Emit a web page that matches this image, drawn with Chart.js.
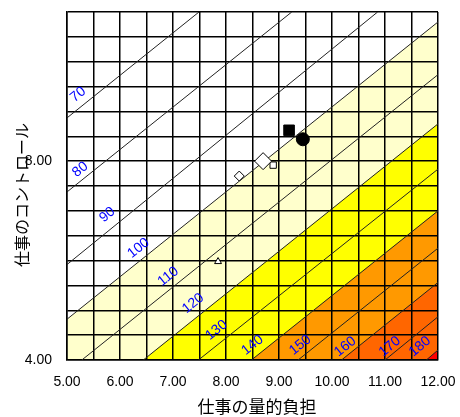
<!DOCTYPE html>
<html>
<head>
<meta charset="utf-8">
<script src="https://cdn.jsdelivr.net/npm/chart.js@4.4.1/dist/chart.umd.min.js"></script>
<style>
  html, body { margin: 0; padding: 0; background: #fff; }
  #wrap { width: 460px; height: 417px; }
</style>
</head>
<body>
<div id="wrap"><canvas id="stressChart" width="460" height="417"></canvas></div>
<script>
// ---------------------------------------------------------------------------
// Dades llegides del gràfic
// ---------------------------------------------------------------------------
const X_TICK_LABELS = [5, 6, 7, 8, 9, 10, 11, 12];
const Y_TICK_LABELS = [4, 8];

// Isolínies: nivell, punt inicial i punt final (valors de l'eix)
const CONTOUR_LEVELS = [70, 80, 90, 100, 110, 120, 130, 140, 150, 160, 170, 180];
const CONTOUR_START = [
    [5, 8.87], [5, 7.38], [5, 5.92], [5, 4.82], [5.28, 4], [6.44, 4],
    [7.48, 4], [8.48, 4], [9.36, 4], [10.18, 4], [11.0, 4], [11.78, 4]
];
const CONTOUR_END = [
    [7.49, 11], [9.24, 11], [10.86, 11], [12, 10.8], [12, 9.74], [12, 8.75],
    [12, 7.84], [12, 7.0], [12, 6.25], [12, 5.56], [12, 4.87], [12, 4.2]
];
// On es col·loca l'etiqueta de cada isolínia
const CONTOUR_LABEL_POS = [
    [5.21, 9.34], [5.25, 7.83], [5.76, 6.92], [6.35, 6.25], [6.91, 5.68], [7.38, 5.14],
    [7.82, 4.60], [8.50, 4.30], [9.40, 4.30], [10.25, 4.27], [11.09, 4.27], [11.66, 4.27]
];

// Franges de color: nivell a partir del qual s'omple
const BAND_LEVELS = [100, 120, 140, 160, 180];
const BAND_COLORS = ['#FFFFCC', '#FFFF00', '#FF9900', '#FF6600', '#FF0000'];

// Punts (grups)
const POINTS = [
    { x: 9.19, y: 8.62, style: 'rect',     fill: '#000', r: 7.5 },
    { x: 9.45, y: 8.44, style: 'circle',   fill: '#000', r: 6.5 },
    { x: 8.70, y: 8.00, style: 'rectRot',  fill: '#fff', r: 8.5 },
    { x: 8.89, y: 7.92, style: 'rect',     fill: '#fff', r: 4.5 },
    { x: 8.25, y: 7.70, style: 'rectRot',  fill: '#fff', r: 5 },
    { x: 7.85, y: 5.98, style: 'triangle', fill: '#fff', r: 4 }
];

// ---------------------------------------------------------------------------
// Datasets
// ---------------------------------------------------------------------------
const seg = i => [
    { x: CONTOUR_START[i][0], y: CONTOUR_START[i][1] },
    { x: CONTOUR_END[i][0], y: CONTOUR_END[i][1] }
];

// Franges: la més alta primer perquè quedi a sobre
const bandDatasets = BAND_LEVELS.map((lvl, k) => {
    const i = CONTOUR_LEVELS.indexOf(lvl);
    return {
        type: 'line',
        data: seg(i),
        borderWidth: 0,
        pointRadius: 0,
        backgroundColor: BAND_COLORS[k],
        fill: 'start',
        order: 10 + (BAND_LEVELS.length - k)
    };
}).reverse();

const contourDatasets = CONTOUR_LEVELS.map((lvl, i) => ({
    type: 'line',
    data: seg(i),
    borderColor: '#222',
    borderWidth: 1,
    pointRadius: 0,
    fill: false,
    order: 5
}));

const pointDatasets = POINTS.map(p => ({
    type: 'scatter',
    data: [{ x: p.x, y: p.y }],
    pointStyle: p.style,
    pointRadius: p.r,
    backgroundColor: p.fill,
    borderColor: '#000',
    borderWidth: 1,
    order: 0
}));

// Etiquetes blaves de les isolínies, girades segons la línia
const contourLabels = {
    id: 'contourLabels',
    afterDatasetsDraw(chart) {
        const { ctx, scales: { x, y } } = chart;
        ctx.save();
        ctx.fillStyle = '#0000FF';
        ctx.font = '14px "Liberation Sans", Arial, sans-serif';
        ctx.textAlign = 'center';
        ctx.textBaseline = 'middle';
        CONTOUR_LEVELS.forEach((lvl, i) => {
            const x0 = x.getPixelForValue(CONTOUR_START[i][0]);
            const y0 = y.getPixelForValue(CONTOUR_START[i][1]);
            const x1 = x.getPixelForValue(CONTOUR_END[i][0]);
            const y1 = y.getPixelForValue(CONTOUR_END[i][1]);
            const ang = Math.atan2(y1 - y0, x1 - x0);
            ctx.save();
            ctx.translate(x.getPixelForValue(CONTOUR_LABEL_POS[i][0]), y.getPixelForValue(CONTOUR_LABEL_POS[i][1]));
            ctx.rotate(ang);
            ctx.fillText(String(lvl), 0, 0);
            ctx.restore();
        });
        ctx.restore();
    }
};

// Títols dels eixos
const axisTitles = {
    id: 'axisTitles',
    afterDraw(chart) {
        const { ctx } = chart;
        ctx.save();
        ctx.fillStyle = '#000';
        ctx.textAlign = 'center';
        ctx.textBaseline = 'middle';
        ctx.font = '17px "Noto Sans CJK JP", sans-serif';
        ctx.fillText('仕事の量的負担', 257, 407);
        ctx.font = '16px "Noto Sans CJK JP", sans-serif';
        ctx.translate(22, 195);
        ctx.rotate(-Math.PI / 2);
        ctx.fillText('仕事のコントロール', 0, 0);
        ctx.restore();
    }
};

// Sense marges extra per les etiquetes dels extrems
const noEdgePadding = s => {
    s.paddingLeft = 0;
    s.paddingRight = 0;
    s.paddingTop = 0;
    s.paddingBottom = 0;
};

const ctx = document.getElementById('stressChart').getContext('2d');

new Chart(ctx, {
    type: 'scatter',
    data: { datasets: [...bandDatasets, ...contourDatasets, ...pointDatasets] },
    options: {
        responsive: false,
        animation: false,
        layout: { padding: { left: 0, right: 22, top: 12, bottom: 0 } },
        plugins: {
            legend: { display: false },
            tooltip: { enabled: false },
            filler: { drawTime: 'beforeDraw' }
        },
        scales: {
            x: {
                type: 'linear',
                min: 5,
                max: 12,
                afterFit: s => { s.height = 57; noEdgePadding(s); },
                grid: { color: '#000', lineWidth: 1.5, drawTicks: false },
                border: { color: '#000', width: 1.5 },
                ticks: {
                    stepSize: 0.5,
                    autoSkip: false,
                    maxRotation: 0,
                    padding: 14,
                    color: '#000',
                    font: { family: '"Liberation Sans", Arial, sans-serif', size: 14 },
                    callback: v => X_TICK_LABELS.includes(v) ? v.toFixed(2) : ''
                }
            },
            y: {
                type: 'linear',
                min: 4,
                max: 11,
                afterFit: s => { s.width = 67; noEdgePadding(s); },
                grid: { color: '#000', lineWidth: 1.5, drawTicks: false },
                border: { color: '#000', width: 1.5 },
                ticks: {
                    stepSize: 0.5,
                    autoSkip: false,
                    padding: 15,
                    color: '#000',
                    font: { family: '"Liberation Sans", Arial, sans-serif', size: 14 },
                    callback: v => Y_TICK_LABELS.includes(v) ? v.toFixed(2) : ''
                }
            }
        }
    },
    plugins: [contourLabels, axisTitles]
});
</script>
</body>
</html>
